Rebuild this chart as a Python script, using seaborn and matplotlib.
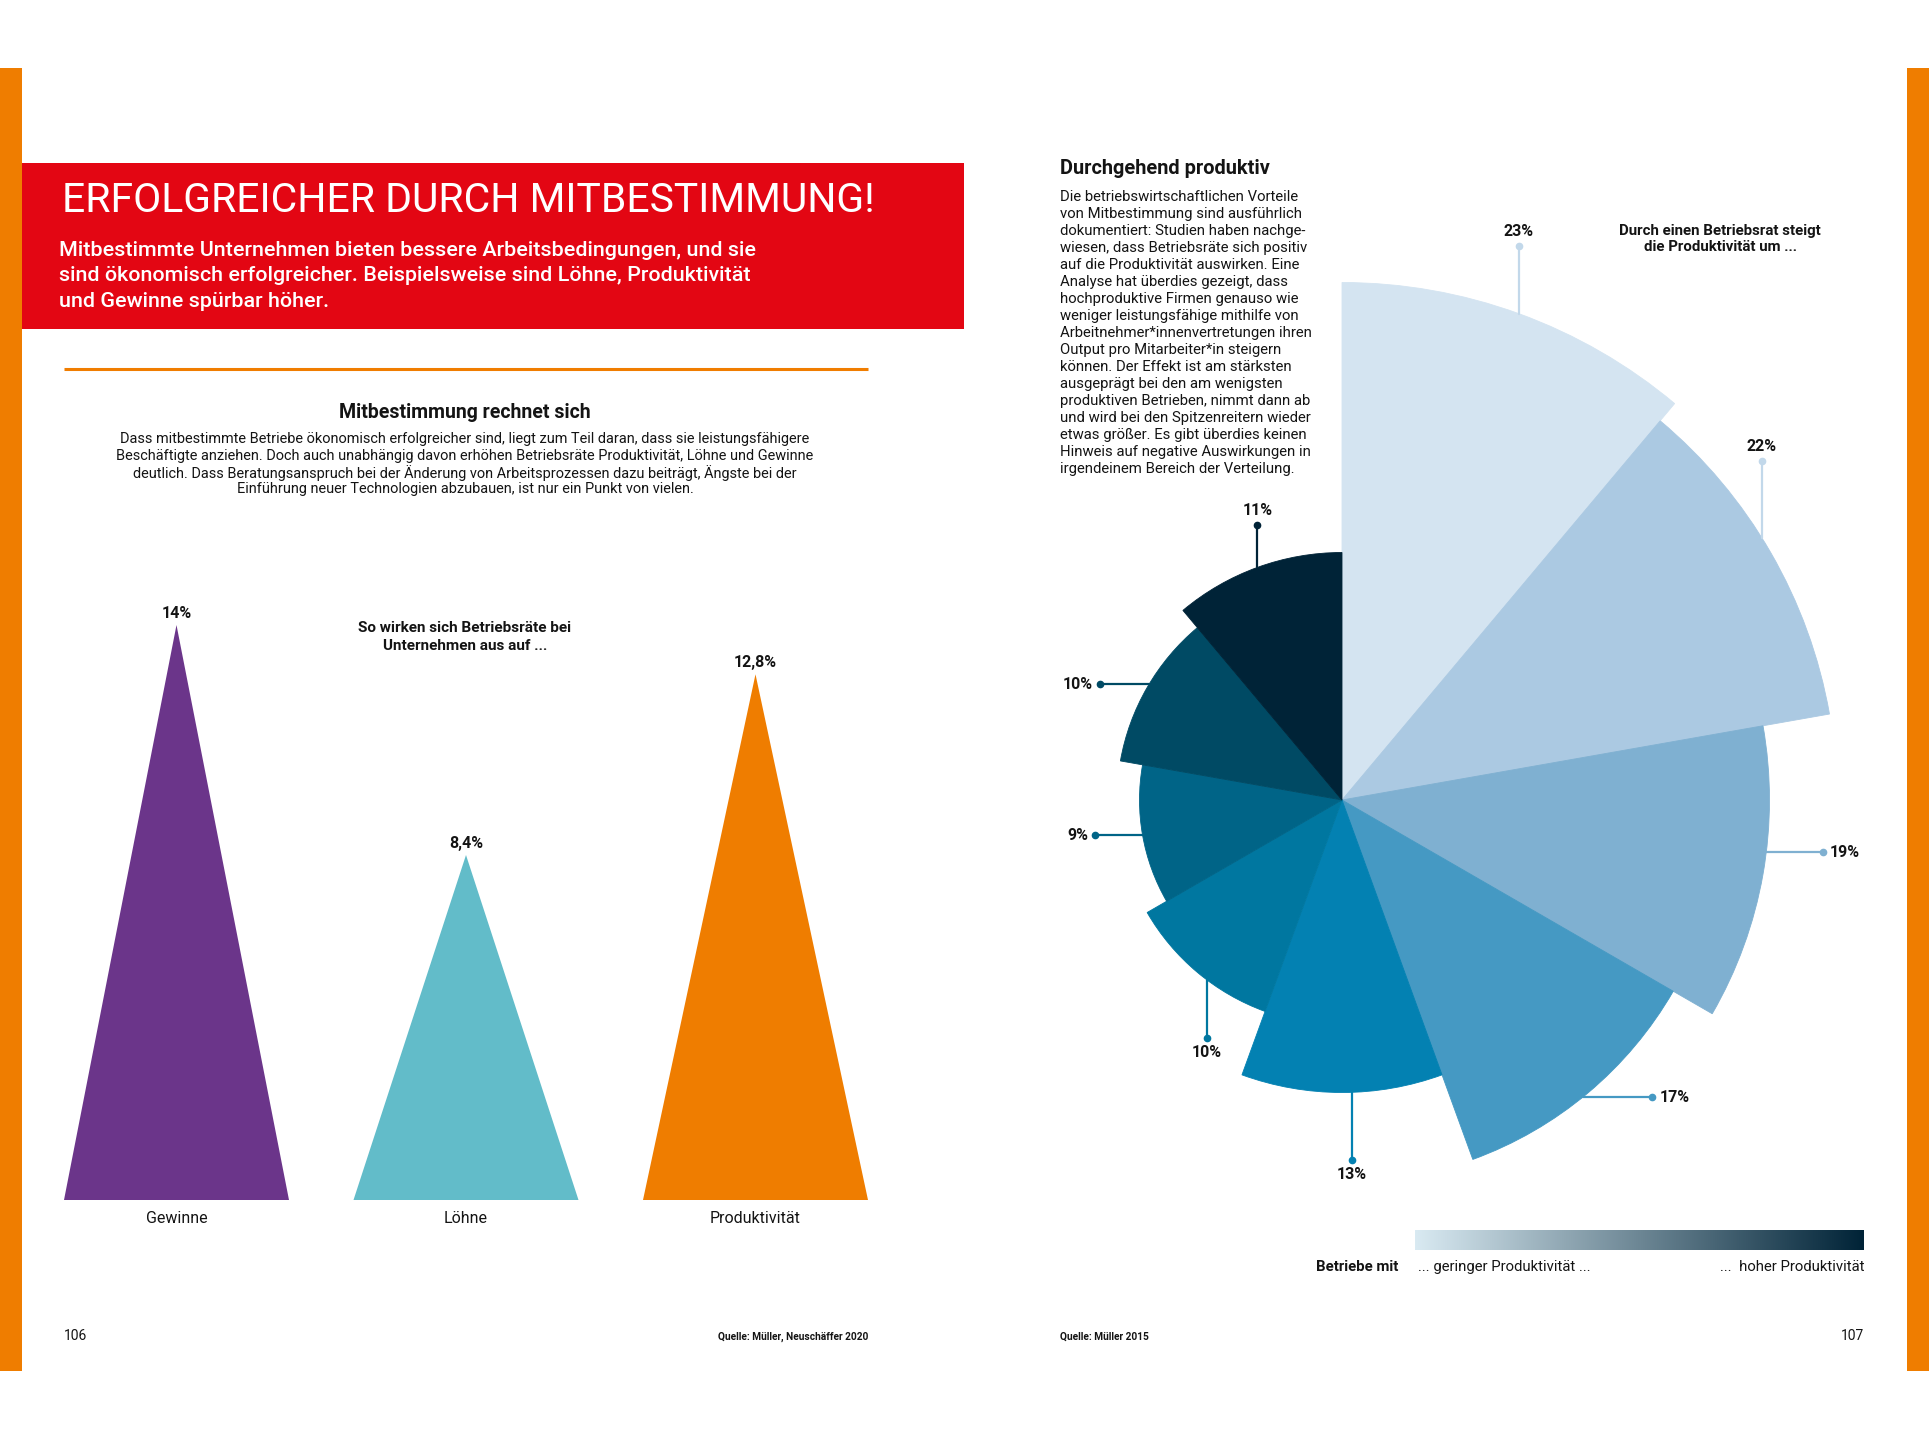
import numpy as np
import pandas as pd
import matplotlib
matplotlib.use('Agg')
import matplotlib.pyplot as plt
from matplotlib.patches import Rectangle
import seaborn as sns

# --- data ---
tri_cats = ['Gewinne', 'Löhne', 'Produktivität']
tri_vals = [14.0, 8.4, 12.8]
tri_labels = ['14%', '8,4%', '12,8%']

rose_vals = [23, 22, 19, 17, 13, 10, 9, 10, 11]
rose_labels = ['23%', '22%', '19%', '17%', '13%', '10%', '9%', '10%', '11%']

headline = 'ERFOLGREICHER DURCH MITBESTIMMUNG!'
sub_lines = ['Mitbestimmte Unternehmen bieten bessere Arbeitsbedingungen, und sie',
             'sind ökonomisch erfolgreicher. Beispielsweise sind Löhne, Produktivität',
             'und Gewinne spürbar höher.']
left_title = 'Mitbestimmung rechnet sich'
left_par = ['Dass mitbestimmte Betriebe ökonomisch erfolgreicher sind, liegt zum Teil daran, dass sie leistungsfähigere',
            'Beschäftigte anziehen. Doch auch unabhängig davon erhöhen Betriebsräte Produktivität, Löhne und Gewinne',
            'deutlich. Dass Beratungsanspruch bei der Änderung von Arbeitsprozessen dazu beiträgt, Ängste bei der',
            'Einführung neuer Technologien abzubauen, ist nur ein Punkt von vielen.']
tri_note = ['So wirken sich Betriebsräte bei', 'Unternehmen aus auf ...']
right_title = 'Durchgehend produktiv'
right_par = ['Die betriebswirtschaftlichen Vorteile',
             'von Mitbestimmung sind ausführlich',
             'dokumentiert: Studien haben nachge-',
             'wiesen, dass Betriebsräte sich positiv',
             'auf die Produktivität auswirken. Eine',
             'Analyse hat überdies gezeigt, dass',
             'hochproduktive Firmen genauso wie',
             'weniger leistungsfähige mithilfe von',
             'Arbeitnehmer*innenvertretungen ihren',
             'Output pro Mitarbeiter*in steigern',
             'können. Der Effekt ist am stärksten',
             'ausgeprägt bei den am wenigsten',
             'produktiven Betrieben, nimmt dann ab',
             'und wird bei den Spitzenreitern wieder',
             'etwas größer. Es gibt überdies keinen',
             'Hinweis auf negative Auswirkungen in',
             'irgendeinem Bereich der Verteilung.']
rose_note = ['Durch einen Betriebsrat steigt', 'die Produktivität um ...']

# --- styles ---
tri_colors = ['#6b358a', '#62bcc9', '#ef7d00']
rose_colors = ['#d4e4f1', '#abc9e2', '#7fb0d1', '#4599c3', '#0381b2',
               '#0077a0', '#006487', '#004a64', '#002337']
# leader lines: angle on the sector edge (deg, clockwise from top), direction, length
lead_ang = [20, 58, 97, 141, 178, 217, 260, 301, 340]
lead_dir = ['up', 'up', 'right', 'right', 'down', 'down', 'left', 'left', 'up']
lead_len = [3.0, 3.4, 2.5, 3.1, 3.0, 2.6, 2.1, 2.2, 1.9]

sns.set_style('white')
plt.rcParams['font.family'] = ['Roboto', 'DejaVu Sans']

W, H = 1929, 1440
fig = plt.figure(figsize=(W / 100, H / 100), dpi=100)
fig.patch.set_facecolor('white')

bg = fig.add_axes([0, 0, 1, 1])
bg.set_xlim(0, W)
bg.set_ylim(H, 0)
bg.axis('off')

renderer = fig.canvas.get_renderer()
ink = '#141414'


def fit(texts, target_w):
    w = max(t.get_window_extent(renderer).width for t in texts)
    s = texts[0].get_fontsize() * target_w / w
    for t in texts:
        t.set_fontsize(s)


# page decorations
bg.add_patch(Rectangle((0, 68), 22, 1303, color='#ef7d00', lw=0))
bg.add_patch(Rectangle((1907, 68), 22, 1303, color='#ef7d00', lw=0))
bg.add_patch(Rectangle((22, 163), 942, 166, color='#e30613', lw=0))
bg.plot([64, 868], [369, 369], color='#f07d00', lw=2.2, solid_capstyle='butt')

t = bg.text(62, 201, headline, color='white', fontsize=40, va='center')
fit([t], 814)
ts = [bg.text(59, 250 + i * 25.6, s, color='white', fontsize=17, va='center', weight='medium')
      for i, s in enumerate(sub_lines)]
fit(ts, 696)

t = bg.text(465, 412, left_title, fontsize=14, weight='bold', ha='center', va='center', color=ink)
fit([t], 253)
ts = [bg.text(465, 439 + i * 16.8, s, fontsize=11, ha='center', va='center', color=ink)
      for i, s in enumerate(left_par)]
fit(ts, 696)
ts = [bg.text(465, 628 + i * 18, s, fontsize=11, weight='bold', ha='center', va='center', color=ink)
      for i, s in enumerate(tri_note)]
fit(ts, 212)

t = bg.text(1060, 169, right_title, fontsize=14, weight='bold', va='center', color=ink)
fit([t], 210)
ts = [bg.text(1060, 197 + i * 17.03, s, fontsize=11, va='center', color=ink)
      for i, s in enumerate(right_par)]
fit(ts, 252)
ts = [bg.text(1720, 231 + i * 16, s, fontsize=11, weight='bold', ha='center', va='center', color=ink)
      for i, s in enumerate(rose_note)]
fit(ts, 202)

# gradient legend
grad = sns.blend_palette(['#d9eaf2', '#002337'], as_cmap=True)
bg.imshow(np.linspace(0, 1, 256)[None, :], cmap=grad, aspect='auto',
          extent=[1415, 1864, 1250, 1230], zorder=2)
t = bg.text(1418, 1267, '... geringer Produktivität ...', fontsize=11, ha='left', va='center', color=ink)
fit([t], 172)
fs = t.get_fontsize()
bg.text(1398, 1267, 'Betriebe mit', fontsize=fs, weight='bold', ha='right', va='center', color=ink)
bg.text(1864, 1267, '...  hoher Produktivität', fontsize=fs, ha='right', va='center', color=ink)

# footers
bg.text(64, 1336, '106', fontsize=10, va='center', color=ink)
t = bg.text(868, 1337, 'Quelle: Müller, Neuschäffer 2020', fontsize=7, weight='bold', ha='right', va='center', color=ink)
fit([t], 150)
t = bg.text(1060, 1337, 'Quelle: Müller 2015', fontsize=7, weight='bold', ha='left', va='center', color=ink)
fit([t], 89)
bg.text(1864, 1336, '107', fontsize=10, ha='right', va='center', color=ink)

# --- triangle chart ---
tri = pd.DataFrame({'name': tri_cats, 'val': tri_vals, 'label': tri_labels})
base_y, ppv = 1200, 41.07
ax = fig.add_axes([31.75 / W, (H - base_y) / H, 868.5 / W, 16 * ppv / H])
ax.patch.set_alpha(0)
ax.set_xlim(-0.5, 2.5)
ax.set_ylim(0, 16)
half = 0.3886
for i, row in tri.iterrows():
    ax.fill([i - half, i, i + half], [0, row['val'], 0], color=tri_colors[i], lw=0)
    ax.annotate(row['label'], (i, row['val']), xytext=(0, 3), textcoords='offset points',
                ha='center', va='bottom', fontsize=11.5, weight='bold', color=ink)
    ax.annotate(row['name'], (i, 0), xytext=(0, -13.5), textcoords='offset points',
                ha='center', va='center', fontsize=11.5, color=ink)
ax.axis('off')

# --- rose chart ---
cx, cy, rmax, ppu = 1342, 800, 26, 22.5
box = [(cx - rmax * ppu) / W, (H - cy - rmax * ppu) / H, 2 * rmax * ppu / W, 2 * rmax * ppu / H]
axr = fig.add_axes(box, projection='polar')
axr.patch.set_alpha(0)
axr.set_theta_zero_location('N')
axr.set_theta_direction(-1)
theta = np.deg2rad(20 + 40 * np.arange(len(rose_vals)))
axr.bar(theta, rose_vals, width=np.deg2rad(40), bottom=0, color=rose_colors,
        edgecolor=rose_colors, linewidth=0.6)
axr.set_ylim(0, rmax)
axr.axis('off')

axl = fig.add_axes(box)
axl.patch.set_alpha(0)
axl.set_xlim(-rmax, rmax)
axl.set_ylim(-rmax, rmax)
axl.axis('off')
vec = {'up': (0, 1), 'down': (0, -1), 'left': (-1, 0), 'right': (1, 0)}
place = {'up': ((0, 5), 'center', 'bottom'), 'down': ((0, -5), 'center', 'top'),
         'left': ((-5, 0), 'right', 'center'), 'right': ((5, 0), 'left', 'center')}
for v, lab, a, d, L, c in zip(rose_vals, rose_labels, lead_ang, lead_dir, lead_len, rose_colors):
    ar = np.deg2rad(a)
    x0, y0 = v * np.sin(ar), v * np.cos(ar)
    dx, dy = vec[d]
    x1, y1 = x0 + dx * L, y0 + dy * L
    lc = c if v < 20 else '#c2d8ea'
    axl.plot([x0, x1], [y0, y1], color=lc, lw=1.6)
    axl.plot([x1], [y1], 'o', color=lc, ms=4.5)
    off, ha, va = place[d]
    axl.annotate(lab, (x1, y1), xytext=off, textcoords='offset points', ha=ha, va=va,
                 fontsize=11.5, weight='bold', color=ink)

fig.savefig('out.png', dpi=100, facecolor='white')
